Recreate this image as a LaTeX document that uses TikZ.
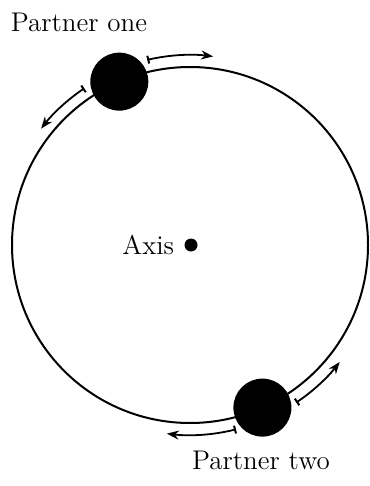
\documentclass[tikz,border=0pt]{standalone}
\usepackage{tikz}
\usetikzlibrary{arrows.meta,positioning}

\begin{document}
\begin{tikzpicture}[
    x=0.5pt, y=-0.5pt,
    orbit/.style={draw=black, line width=1pt},
    partner/.style={circle, fill=black, minimum size=29pt, inner sep=0pt},
    pivot/.style={circle, fill=black, minimum size=6.5pt, inner sep=0pt},
    motion/.style={line width=0.9pt, {Bar[width=4pt,line width=1pt]}-{Stealth[length=6pt,width=4.5pt]}},
    lab/.style={font=\fontsize{13.5}{16}\selectfont}
  ]
  \useasboundingbox (0,0) rectangle (369,486);

  % the orbit
  \coordinate (axis) at (190,245);
  \draw[orbit] (axis) circle[radius=178];
  \node[pivot] (axisdot) at (191,245) {};
  \node[lab, left=1.5pt of axisdot] (axislab) {Axis};

  % the two partners
  \node[partner] (p1) at ([shift={(-113.4:178)}]axis) {};
  \node[partner] (p2) at ([shift={(66:178)}]axis) {};
  \node[lab] (p1lab) at (79,22) {Partner one};
  \node[lab] (p2lab) at (261,460) {Partner two};

  % directions of motion
  \draw[motion] ([shift={(-103:190)}]axis) arc[start angle=-103, end angle=-83, radius=190];
  \draw[motion] ([shift={(-124:189)}]axis) arc[start angle=-124, end angle=-142, radius=189];
  \draw[motion] ([shift={(56:190)}]axis) arc[start angle=56, end angle=38, radius=190];
  \draw[motion] ([shift={(76:190)}]axis) arc[start angle=76, end angle=97, radius=190];
\end{tikzpicture}
\end{document}
